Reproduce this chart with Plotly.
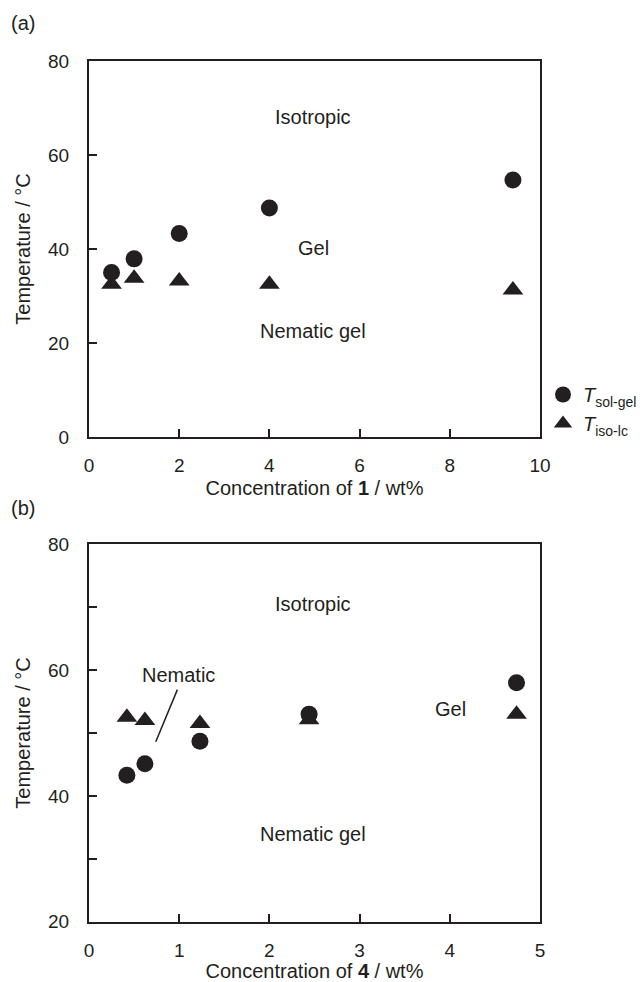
import plotly.graph_objects as go

# ---- Panel (a): gelator 1 ----
conc_1 = [0.5, 1.0, 2.0, 4.0, 9.4]
t_solgel_1 = [35.0, 37.9, 43.3, 48.7, 54.7]
t_isolc_1 = [32.5, 33.8, 33.2, 32.5, 31.3]

# ---- Panel (b): gelator 4 ----
conc_4 = [0.42, 0.62, 1.23, 2.44, 4.74]
t_solgel_4 = [43.3, 45.1, 48.7, 53.0, 58.0]
t_isolc_4 = [52.5, 52.0, 51.5, 52.1, 53.0]

x_ticks_a = [0, 2, 4, 6, 8, 10]
y_ticks_a = [0, 20, 40, 60, 80]
x_ticks_b = [0, 1, 2, 3, 4, 5]
y_ticks_b = [20, 40, 60, 80]
y_minor_b = [30, 50, 70]

INK = "#231f20"
FONT = "Arial, Liberation Sans, sans-serif"
W, H = 643, 982


def px_x(p):
    return p / W


def px_y(p):
    return 1 - p / H


fig = go.Figure()

marker_c = dict(symbol="circle", size=17, color=INK, line=dict(width=0))
marker_t = dict(symbol="triangle-up", size=18, color=INK, line=dict(width=0))

fig.add_trace(go.Scatter(x=conc_1, y=t_solgel_1, mode="markers", marker=marker_c,
                         name="<i>T</i><sub>sol-gel</sub>", xaxis="x", yaxis="y"))
fig.add_trace(go.Scatter(x=conc_1, y=t_isolc_1, mode="markers", marker=marker_t,
                         name="<i>T</i><sub>iso-lc</sub>", xaxis="x", yaxis="y"))
fig.add_trace(go.Scatter(x=conc_4, y=t_solgel_4, mode="markers", marker=marker_c,
                         showlegend=False, xaxis="x2", yaxis="y2"))
fig.add_trace(go.Scatter(x=conc_4, y=t_isolc_4, mode="markers", marker=marker_t,
                         showlegend=False, xaxis="x2", yaxis="y2"))

axis_common = dict(
    automargin=False,
    showline=True, linecolor=INK, linewidth=2, mirror=True,
    ticks="inside", ticklen=8, tickwidth=2, tickcolor=INK,
    showgrid=False, zeroline=False,
    tickfont=dict(family=FONT, size=19, color=INK),
    title_font=dict(family=FONT, size=20, color=INK),
)

dom_x = [px_x(89), px_x(540)]
fig.update_layout(
    template="none",
    width=W, height=H,
    margin=dict(l=0, r=0, t=0, b=0, autoexpand=False),
    paper_bgcolor="white", plot_bgcolor="white",
    font=dict(family=FONT, size=20, color=INK),
    xaxis=dict(axis_common, domain=dom_x, anchor="y", range=[0, 10],
               tickvals=x_ticks_a, ticklabelstandoff=10,
               title=dict(text="Concentration of <b>1</b> / wt%", standoff=6)),
    yaxis=dict(axis_common, domain=[px_y(437), px_y(61)], anchor="x", range=[0, 80],
               tickvals=y_ticks_a, ticklabelstandoff=14,
               title=dict(text="Temperature / °C", standoff=12)),
    xaxis2=dict(axis_common, domain=dom_x, anchor="y2", range=[0, 5],
                tickvals=x_ticks_b, ticklabelstandoff=10,
                title=dict(text="Concentration of <b>4</b> / wt%", standoff=8)),
    yaxis2=dict(axis_common, domain=[px_y(921.7), px_y(544.3)], anchor="x2", range=[20, 80],
                tickvals=y_ticks_b, ticklabelstandoff=14,
                minor=dict(tickvals=y_minor_b, ticks="inside", ticklen=8,
                           tickwidth=2, tickcolor=INK, showgrid=False),
                title=dict(text="Temperature / °C", standoff=12)),
    legend=dict(x=px_x(543), y=px_y(375), xanchor="left", yanchor="top",
                font=dict(family=FONT, size=20, color=INK),
                bgcolor="rgba(0,0,0,0)", tracegroupgap=0, itemwidth=30),
    showlegend=True,
)

# Region labels
def region_label(text, x, y, xref, yref):
    fig.add_annotation(text=text, x=x, y=y, xref=xref, yref=yref, showarrow=False,
                       xanchor="center", yanchor="middle",
                       font=dict(family=FONT, size=20, color=INK))

region_label("Isotropic", 4.97, 68.0, "x", "y")
region_label("Gel", 4.97, 40.3, "x", "y")
region_label("Nematic gel", 4.97, 22.6, "x", "y")

region_label("Isotropic", 2.48, 70.5, "x2", "y2")
region_label("Nematic", 0.99, 59.2, "x2", "y2")
region_label("Gel", 4.01, 53.8, "x2", "y2")
region_label("Nematic gel", 2.48, 34.0, "x2", "y2")

# Leader line from the "Nematic" label into the narrow band
fig.add_shape(type="line", xref="x2", yref="y2", x0=0.98, y0=56.9, x1=0.74, y1=48.6,
              line=dict(color=INK, width=1.5))

# Panel letters
for letter, ypix in (("(a)", 23), ("(b)", 508)):
    fig.add_annotation(text=letter, x=px_x(23), y=px_y(ypix), xref="paper", yref="paper",
                       xanchor="center", yanchor="middle", showarrow=False,
                       font=dict(family=FONT, size=20, color=INK))

fig.write_html("out.html")
